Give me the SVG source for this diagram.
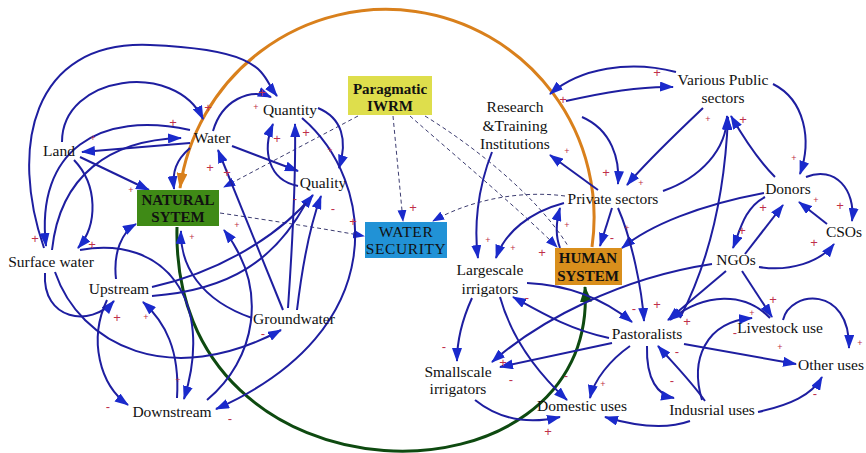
<svg xmlns="http://www.w3.org/2000/svg" width="866" height="453" viewBox="0 0 866 453">
<defs>
<style>
.c{fill:none;stroke:#1e1ea0;stroke-width:2;marker-end:url(#ab)}
.n{fill:none;stroke:#1e1ea0;stroke-width:2}
.d{fill:none;stroke:#3c3c70;stroke-width:1;stroke-dasharray:4 3;marker-end:url(#ad)}
.dn{fill:none;stroke:#3c3c70;stroke-width:1;stroke-dasharray:4 3}
.t{font-family:"Liberation Serif","Times New Roman",serif;font-size:15.5px;fill:#111;text-anchor:middle}
.b{font-weight:bold;font-size:15px}
.p{font-family:"Liberation Sans",Arial,sans-serif;fill:#c0304a;text-anchor:middle;font-size:13px}
.s{font-size:9px}
</style>
<marker id="ab" viewBox="0 0 14 10" refX="13" refY="5" markerWidth="14" markerHeight="10" markerUnits="userSpaceOnUse" orient="auto"><path d="M0,0 L14,5 L0,10 z" fill="#1a2acc"/></marker>
<marker id="ad" viewBox="0 0 12 9" refX="11" refY="4.5" markerWidth="12" markerHeight="9" markerUnits="userSpaceOnUse" orient="auto"><path d="M0,0 L12,4.5 L0,9 z" fill="#1a2acc"/></marker>
<marker id="ao" viewBox="0 0 16 11" refX="15" refY="5.5" markerWidth="16" markerHeight="11" markerUnits="userSpaceOnUse" orient="auto"><path d="M0,0 L16,5.5 L0,11 z" fill="#d9801c"/></marker>
<marker id="ag" viewBox="0 0 16 12" refX="15" refY="6" markerWidth="16" markerHeight="12" markerUnits="userSpaceOnUse" orient="auto"><path d="M0,0 L16,6 L0,12 z" fill="#0e4a10"/></marker>
</defs>
<rect width="866" height="453" fill="#fff"/>

<g id="connectors">
<!-- big arcs -->
<path d="M 592 247 A 208 208 0 0 0 180 188" fill="none" stroke="#d9801c" stroke-width="3" marker-end="url(#ao)"/>
<path d="M 177 227 C 170 515, 600 515, 585 287" fill="none" stroke="#0e4a10" stroke-width="3" marker-end="url(#ag)"/>
<!-- dashed -->
<path class="d" d="M 358 116 L 224 187"/>
<path class="d" d="M 393 116 L 403 221"/>
<path class="d" d="M 410 116 C 460 160, 520 210, 557 247"/>
<path class="dn" d="M 425 116 C 480 150, 540 200, 568 246"/>
<path class="d" d="M 220 213 C 280 222, 320 228, 364 236"/>
<path class="d" d="M 565 196 C 520 190, 470 200, 433 221"/>
<!-- left cluster -->
<path class="c" d="M 44 248 C 10 150, 30 40, 150 45 C 270 50, 260 75, 277 96"/>
<path class="c" d="M 62 142 C 62 75, 175 60, 203 119"/>
<path class="c" d="M 190 143 L 82 152"/>
<path class="c" d="M 52 250 C 60 175, 110 140, 181 138"/>
<path class="c" d="M 190 130 C 100 110, 35 150, 46 246"/>
<path class="c" d="M 80 157 L 149 190"/>
<path class="c" d="M 74 160 C 98 185, 98 225, 78 248"/>
<path class="c" d="M 190 148 C 176 160, 172 172, 174 189"/>
<path class="c" d="M 232 146 L 298 171"/>
<path class="c" d="M 213 131 C 222 100, 250 88, 271 97"/>
<path class="c" d="M 283 310 L 218 150"/>
<path class="c" d="M 318 108 C 342 118, 348 140, 339 168"/>
<path class="c" d="M 298 186 C 268 180, 262 150, 273 124"/>
<path class="c" d="M 288 308 C 292 250, 296 180, 295 124"/>
<path class="c" d="M 302 118 C 375 180, 395 330, 216 409"/>
<path class="c" d="M 297 310 C 303 260, 312 220, 321 196"/>
<path class="c" d="M 152 287 C 220 272, 280 235, 313 195"/>
<path class="n" d="M 152 296 C 230 290, 275 260, 306 203"/>
<path class="c" d="M 55 272 C 80 345, 170 390, 281 330"/>
<path class="c" d="M 45 273 C 42 320, 90 328, 114 301"/>
<path class="c" d="M 107 300 C 88 340, 100 385, 128 405"/>
<path class="c" d="M 177 398 C 180 350, 165 322, 143 302"/>
<path class="c" d="M 80 250 C 165 235, 215 300, 184 399"/>
<path class="c" d="M 207 400 C 255 360, 270 290, 224 230"/>
<path class="c" d="M 252 318 C 200 300, 180 265, 181 231"/>
<path class="c" d="M 116 279 C 113 252, 122 232, 136 224"/>
<!-- right cluster -->
<path class="c" d="M 566 101 C 605 92, 645 86, 673 87"/>
<path class="c" d="M 676 72 C 630 60, 580 68, 550 94"/>
<path class="c" d="M 582 117 C 612 130, 620 160, 618 184"/>
<path class="c" d="M 703 108 C 675 135, 648 160, 627 185"/>
<path class="c" d="M 598 190 L 550 155"/>
<path class="c" d="M 663 191 C 700 178, 727 150, 727 116"/>
<path class="c" d="M 680 318 C 710 260, 725 190, 728 117"/>
<path class="c" d="M 775 177 C 758 160, 742 135, 731 116"/>
<path class="c" d="M 773 84 C 805 100, 812 140, 800 174"/>
<path class="c" d="M 806 177 C 835 165, 856 190, 852 221"/>
<path class="c" d="M 827 224 L 799 202"/>
<path class="c" d="M 765 197 C 745 207, 740 230, 733 248"/>
<path class="c" d="M 745 254 L 783 205"/>
<path class="c" d="M 759 267 C 790 272, 820 262, 834 244"/>
<path class="c" d="M 764 193 C 700 205, 650 225, 622 248"/>
<path class="c" d="M 612 208 L 600 246"/>
<path class="c" d="M 560 248 C 555 235, 556 222, 560 208"/>
<path class="c" d="M 564 203 C 530 212, 505 232, 496 258"/>
<path class="c" d="M 492 152 C 477 190, 474 228, 478 258"/>
<path class="c" d="M 618 208 C 632 240, 642 290, 644 321"/>
<path class="c" d="M 726 271 L 668 320"/>
<path class="c" d="M 742 271 L 772 317"/>
<path class="c" d="M 712 264 C 620 278, 540 320, 492 362"/>
<path class="c" d="M 770 318 C 745 292, 705 292, 670 320"/>
<path class="c" d="M 702 400 C 690 360, 705 322, 752 318"/>
<path class="c" d="M 783 320 C 790 290, 850 285, 849 348"/>
<path class="c" d="M 684 344 L 796 364"/>
<path class="c" d="M 758 412 C 790 405, 812 395, 822 377"/>
<path class="c" d="M 705 401 C 690 380, 672 362, 658 346"/>
<path class="c" d="M 647 346 C 646 380, 658 395, 674 398"/>
<path class="c" d="M 690 421 C 665 430, 635 426, 605 417"/>
<path class="c" d="M 630 346 C 610 360, 594 380, 590 398"/>
<path class="c" d="M 612 343 L 500 367"/>
<path class="c" d="M 609 338 C 570 330, 540 312, 513 297"/>
<path class="c" d="M 527 283 C 570 285, 605 300, 632 322"/>
<path class="c" d="M 500 297 C 512 340, 540 375, 567 400"/>
<path class="c" d="M 472 298 C 462 320, 457 340, 457 361"/>
<path class="c" d="M 475 400 C 500 420, 530 424, 560 417"/>
</g>

<g id="polarity">
<text class="p" x="208" y="112">+</text>
<text class="p" x="262" y="97" fill="#b0208a">+</text>
<text class="p s" x="256" y="110">+</text>
<text class="p" x="173" y="127">+</text>
<text class="p s" x="93" y="141">+</text>
<text class="p" x="277" y="143">+</text>
<text class="p" x="306" y="137">+</text>
<text class="p s" x="330" y="153">+</text>
<text class="p" x="210" y="172">+</text>
<text class="p" x="227" y="177">+</text>
<text class="p s" x="131" y="193">+</text>
<text class="p s" x="237" y="228">+</text>
<text class="p" x="295" y="203">-</text>
<text class="p" x="333" y="213">-</text>
<text class="p" x="353" y="226">+</text>
<text class="p" x="413" y="212">+</text>
<text class="p" x="443" y="228">-</text>
<text class="p s" x="192" y="240">+</text>
<text class="p" x="35" y="243">+</text>
<text class="p" x="92" y="249">+</text>
<text class="p" x="117" y="322">+</text>
<text class="p s" x="146" y="320">+</text>
<text class="p" x="263" y="338">-</text>
<text class="p s" x="178" y="383">+</text>
<text class="p" x="108" y="411">-</text>
<text class="p" x="230" y="423">-</text>
<text class="p" x="563" y="104">+</text>
<text class="p" x="657" y="77">+</text>
<text class="p s" x="567" y="154">+</text>
<text class="p" x="606" y="177">+</text>
<text class="p s" x="641" y="186">+</text>
<text class="p s" x="708" y="122">+</text>
<text class="p" x="743" y="124">+</text>
<text class="p s" x="794" y="161">+</text>
<text class="p s" x="816" y="203">+</text>
<text class="p" x="840" y="210">+</text>
<text class="p" x="763" y="212">+</text>
<text class="p" x="742" y="235">+</text>
<text class="p" x="814" y="247">+</text>
<text class="p s" x="567" y="228">+</text>
<text class="p s" x="488" y="243">+</text>
<text class="p s" x="513" y="251">+</text>
<text class="p" x="542" y="257">+</text>
<text class="p" x="612" y="242">-</text>
<text class="p s" x="627" y="231">+</text>
<text class="p" x="527" y="302">-</text>
<text class="p" x="634" y="313">-</text>
<text class="p" x="657" y="309">+</text>
<text class="p" x="687" y="326">+</text>
<text class="p" x="773" y="304">+</text>
<text class="p s" x="752" y="316">+</text>
<text class="p" x="735" y="337">-</text>
<text class="p s" x="780" y="350">+</text>
<text class="p s" x="860" y="346">+</text>
<text class="p" x="677" y="356">-</text>
<text class="p" x="444" y="351">-</text>
<text class="p" x="503" y="367">+</text>
<text class="p" x="511" y="384">-</text>
<text class="p" x="566" y="380">-</text>
<text class="p s" x="603" y="387">+</text>
<text class="p" x="672" y="385">-</text>
<text class="p" x="815" y="398">-</text>
<text class="p" x="548" y="436">+</text>
</g>

<g id="natural-system"><rect x="137" y="190" width="82" height="36" fill="#3f8a16"/><text class="t b" x="178" y="205" fill="#14200a">NATURAL</text><text class="t b" x="178" y="222" fill="#14200a">SYTEM</text></g>
<g id="paragmatic-iwrm"><rect x="348" y="76" width="84" height="39" fill="#dede4c"/><text class="t b" x="390" y="94">Paragmatic</text><text class="t b" x="390" y="111">IWRM</text></g>
<g id="water-security"><rect x="365" y="222" width="82" height="36" fill="#2192d6"/><text class="t" x="406" y="237" fill="#1c2a5a" letter-spacing="0.6">WATER</text><text class="t" x="406" y="254" fill="#1c2a5a" letter-spacing="0.6">SECURITY</text></g>
<g id="human-system"><rect x="555" y="248" width="67" height="37" fill="#d98f1c"/><text class="t b" x="588" y="263" fill="#2a1400">HUMAN</text><text class="t b" x="588" y="281" fill="#2a1400">SYSTEM</text></g>

<g id="land"><text class="t" x="59" y="156">Land</text></g>
<g id="water"><text class="t" x="212" y="143">Water</text></g>
<g id="quantity"><text class="t" x="290" y="115">Quantity</text></g>
<g id="quality"><text class="t" x="323" y="188">Quality</text></g>
<g id="surface-water"><text class="t" x="51" y="267">Surface water</text></g>
<g id="upstream"><text class="t" x="119" y="294">Upstream</text></g>
<g id="groundwater"><text class="t" x="294" y="324">Groundwater</text></g>
<g id="downstream"><text class="t" x="172" y="417">Downstream</text></g>
<g id="research"><text class="t" x="515" y="112">Research</text><text class="t" x="515" y="131">&amp;Training</text><text class="t" x="515" y="149">Institutions</text></g>
<g id="various-public"><text class="t" x="723" y="85">Various Public</text><text class="t" x="723" y="103">sectors</text></g>
<g id="private-sectors"><text class="t" x="613" y="204">Private sectors</text></g>
<g id="donors"><text class="t" x="788" y="194">Donors</text></g>
<g id="csos"><text class="t" x="844" y="237">CSOs</text></g>
<g id="ngos"><text class="t" x="736" y="265">NGOs</text></g>
<g id="largescale"><text class="t" x="490" y="275">Largescale</text><text class="t" x="490" y="294">irrigators</text></g>
<g id="pastoralists"><text class="t" x="647" y="339">Pastoralists</text></g>
<g id="livestock"><text class="t" x="780" y="333">Livestock use</text></g>
<g id="other-uses"><text class="t" x="831" y="370">Other uses</text></g>
<g id="smallscale"><text class="t" x="458" y="377">Smallscale</text><text class="t" x="458" y="394">irrigators</text></g>
<g id="domestic"><text class="t" x="582" y="411">Domestic uses</text></g>
<g id="industrial"><text class="t" x="712" y="415">Indusrial uses</text></g>
</svg>
